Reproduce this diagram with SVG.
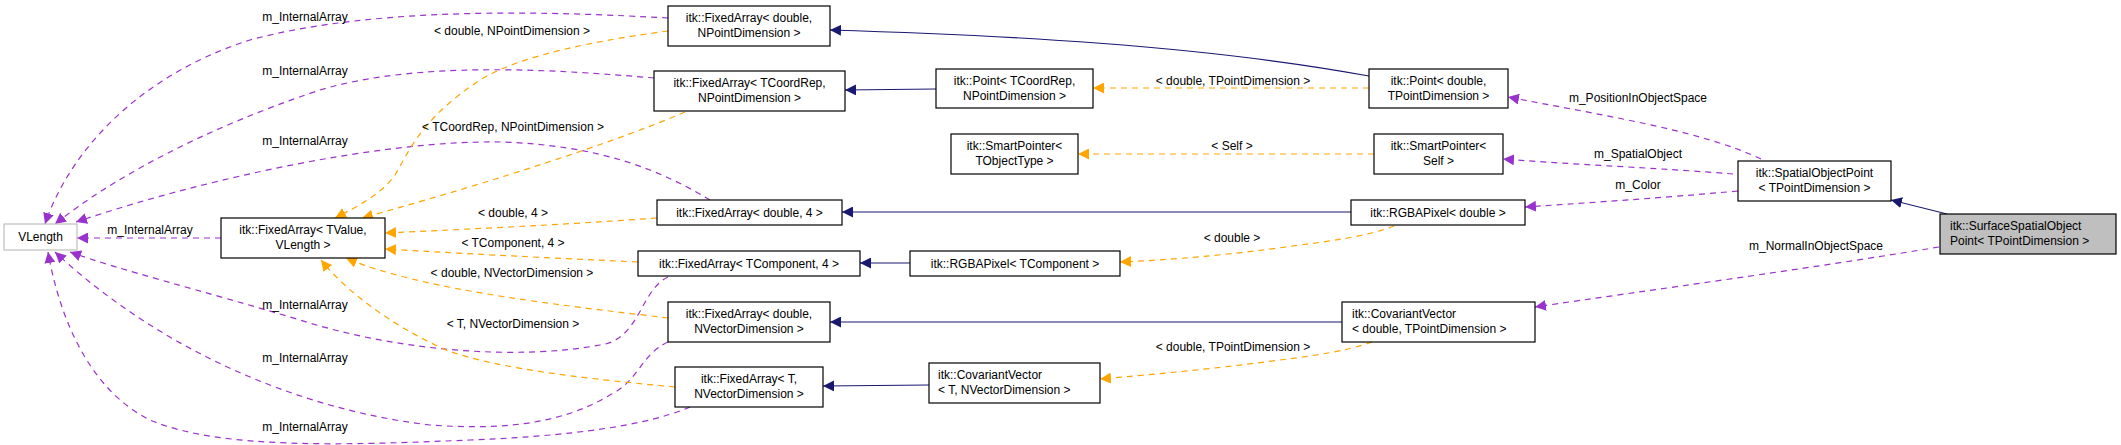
<svg xmlns="http://www.w3.org/2000/svg" width="2121" height="445" viewBox="0 0 2121 445">
<style>
text{font-family:"Liberation Sans",Arial,sans-serif;font-size:12px;fill:#000}
.n rect{fill:#fff;stroke:#000;stroke-width:1.2}
.c{text-anchor:middle}
.p{fill:none;stroke:#9a32cd;stroke-width:1.2;stroke-dasharray:6,5}
.o{fill:none;stroke:#ffa500;stroke-width:1.2;stroke-dasharray:6,5}
.b{fill:none;stroke:#191970;stroke-width:1.2}
</style>
<defs>
<marker id="mp" viewBox="0 0 10 10" refX="10" refY="5" markerWidth="11" markerHeight="11" markerUnits="userSpaceOnUse" orient="auto"><path d="M0,0L10,5L0,10z" fill="#9a32cd"/></marker>
<marker id="mo" viewBox="0 0 10 10" refX="10" refY="5" markerWidth="11" markerHeight="11" markerUnits="userSpaceOnUse" orient="auto"><path d="M0,0L10,5L0,10z" fill="#ffa500"/></marker>
<marker id="mb" viewBox="0 0 10 10" refX="10" refY="5" markerWidth="11" markerHeight="11" markerUnits="userSpaceOnUse" orient="auto"><path d="M0,0L10,5L0,10z" fill="#191970"/></marker>
</defs>
<g id="connectors">
<path class="p" marker-end="url(#mp)" d="M668,18 C560,12 380,5 250,40 C140,75 70,150 45,224"/>
<path class="p" marker-end="url(#mp)" d="M654,78 C560,70 420,60 320,90 C200,130 110,180 55,224"/>
<path class="p" marker-end="url(#mp)" d="M710,200 C660,170 600,145 500,142 C380,140 200,180 76,222"/>
<path class="p" marker-end="url(#mp)" d="M221,238 L77,238"/>
<path class="p" marker-end="url(#mp)" d="M668,277 C640,290 640,340 600,345 C520,360 400,352 300,320 C200,290 120,270 70,252"/>
<path class="p" marker-end="url(#mp)" d="M668,342 C640,355 640,380 610,395 C560,425 500,430 430,425 C300,410 160,350 55,252"/>
<path class="p" marker-end="url(#mp)" d="M690,407 C660,420 600,435 470,440 C350,445 220,450 150,420 C90,390 60,320 48,252"/>
<path class="o" marker-end="url(#mo)" d="M668,31 C600,40 520,55 480,80 C420,120 410,150 395,175 C380,195 360,205 335,218"/>
<path class="o" marker-end="url(#mo)" d="M685,112 C620,140 500,180 362,218"/>
<path class="o" marker-end="url(#mo)" d="M657,218 C560,225 470,229 385,233"/>
<path class="o" marker-end="url(#mo)" d="M638,262 C550,258 470,254 385,249"/>
<path class="o" marker-end="url(#mo)" d="M668,318 C560,305 420,290 346,258"/>
<path class="o" marker-end="url(#mo)" d="M675,387 C600,380 500,370 446,350 C390,325 345,290 321,260"/>
<path class="b" marker-end="url(#mb)" d="M1369,76 C1200,45 1000,35 830,30"/>
<path class="b" marker-end="url(#mb)" d="M936,89 L845,90"/>
<path class="b" marker-end="url(#mb)" d="M1351,212 L842,212"/>
<path class="b" marker-end="url(#mb)" d="M910,263 L860,263"/>
<path class="b" marker-end="url(#mb)" d="M1342,322 L830,322"/>
<path class="b" marker-end="url(#mb)" d="M929,385 L823,386"/>
<path class="b" marker-end="url(#mb)" d="M1947,214 L1891,200"/>
<path class="o" marker-end="url(#mo)" d="M1369,88 L1093,88"/>
<path class="o" marker-end="url(#mo)" d="M1374,154 L1078,154"/>
<path class="o" marker-end="url(#mo)" d="M1394,226 C1370,235 1340,240 1300,245 C1230,255 1170,260 1120,262"/>
<path class="o" marker-end="url(#mo)" d="M1372,342 C1350,350 1320,355 1280,360 C1220,368 1160,374 1100,379"/>
<path class="p" marker-end="url(#mp)" d="M1761,159 C1700,130 1600,115 1508,97"/>
<path class="p" marker-end="url(#mp)" d="M1733,174 C1660,168 1580,165 1503,159"/>
<path class="p" marker-end="url(#mp)" d="M1738,191 C1660,198 1600,202 1525,207"/>
<path class="p" marker-end="url(#mp)" d="M1939,247 C1800,270 1650,290 1535,307"/>
<text x="305" y="21" class="c">m_InternalArray</text>
<text x="305" y="75" class="c">m_InternalArray</text>
<text x="305" y="145" class="c">m_InternalArray</text>
<text x="150" y="234" class="c">m_InternalArray</text>
<text x="305" y="309" class="c">m_InternalArray</text>
<text x="305" y="362" class="c">m_InternalArray</text>
<text x="305" y="431" class="c">m_InternalArray</text>
<text x="512" y="35" class="c">&lt; double, NPointDimension &gt;</text>
<text x="513" y="131" class="c">&lt; TCoordRep, NPointDimension &gt;</text>
<text x="513" y="217" class="c">&lt; double, 4 &gt;</text>
<text x="513" y="247" class="c">&lt; TComponent, 4 &gt;</text>
<text x="512" y="277" class="c">&lt; double, NVectorDimension &gt;</text>
<text x="513" y="328" class="c">&lt; T, NVectorDimension &gt;</text>
<text x="1233" y="85" class="c">&lt; double, TPointDimension &gt;</text>
<text x="1232" y="150" class="c">&lt; Self &gt;</text>
<text x="1232" y="242" class="c">&lt; double &gt;</text>
<text x="1233" y="351" class="c">&lt; double, TPointDimension &gt;</text>
<text x="1638" y="102" class="c">m_PositionInObjectSpace</text>
<text x="1638" y="158" class="c">m_SpatialObject</text>
<text x="1638" y="189" class="c">m_Color</text>
<text x="1816" y="250" class="c">m_NormalInObjectSpace</text>
</g>
<g id="vlength" class="n"><rect x="4" y="224" width="73" height="26" style="stroke:#bfbfbf"/><text x="40.5" y="241" class="c">VLength</text></g>
<g id="fa_tvalue" class="n"><rect x="221" y="218" width="164" height="40"/><text x="303" y="234" class="c">itk::FixedArray&lt; TValue,</text><text x="303" y="249" class="c">VLength &gt;</text></g>
<g id="fa_double_npd" class="n"><rect x="668" y="6" width="162" height="40"/><text x="749" y="22" class="c">itk::FixedArray&lt; double,</text><text x="749" y="37" class="c">NPointDimension &gt;</text></g>
<g id="fa_tcoordrep" class="n"><rect x="654" y="71" width="191" height="40"/><text x="749.5" y="87" class="c">itk::FixedArray&lt; TCoordRep,</text><text x="749.5" y="102" class="c">NPointDimension &gt;</text></g>
<g id="point_tcoordrep" class="n"><rect x="936" y="69" width="157" height="39"/><text x="1014.5" y="85" class="c">itk::Point&lt; TCoordRep,</text><text x="1014.5" y="100" class="c">NPointDimension &gt;</text></g>
<g id="smartptr_tobj" class="n"><rect x="951" y="134" width="127" height="40"/><text x="1014.5" y="150" class="c">itk::SmartPointer&lt;</text><text x="1014.5" y="165" class="c">TObjectType &gt;</text></g>
<g id="fa_double_4" class="n"><rect x="657" y="200" width="185" height="25"/><text x="749.5" y="217" class="c">itk::FixedArray&lt; double, 4 &gt;</text></g>
<g id="fa_tcomp_4" class="n"><rect x="638" y="251" width="222" height="25"/><text x="749" y="268" class="c">itk::FixedArray&lt; TComponent, 4 &gt;</text></g>
<g id="rgba_tcomp" class="n"><rect x="910" y="251" width="210" height="25"/><text x="1015" y="268" class="c">itk::RGBAPixel&lt; TComponent &gt;</text></g>
<g id="fa_double_nvd" class="n"><rect x="668" y="302" width="162" height="40"/><text x="749" y="318" class="c">itk::FixedArray&lt; double,</text><text x="749" y="333" class="c">NVectorDimension &gt;</text></g>
<g id="fa_t_nvd" class="n"><rect x="675" y="367" width="148" height="40"/><text x="749" y="383" class="c">itk::FixedArray&lt; T,</text><text x="749" y="398" class="c">NVectorDimension &gt;</text></g>
<g id="covvec_t" class="n"><rect x="929" y="363" width="171" height="40"/><text x="938" y="379">itk::CovariantVector</text><text x="938" y="394">&lt; T, NVectorDimension &gt;</text></g>
<g id="point_double" class="n"><rect x="1369" y="69" width="139" height="39"/><text x="1438.5" y="85" class="c">itk::Point&lt; double,</text><text x="1438.5" y="100" class="c">TPointDimension &gt;</text></g>
<g id="smartptr_self" class="n"><rect x="1374" y="134" width="129" height="40"/><text x="1438.5" y="150" class="c">itk::SmartPointer&lt;</text><text x="1438.5" y="165" class="c">Self &gt;</text></g>
<g id="rgba_double" class="n"><rect x="1351" y="200" width="174" height="25"/><text x="1438" y="217" class="c">itk::RGBAPixel&lt; double &gt;</text></g>
<g id="covvec_double" class="n"><rect x="1342" y="302" width="193" height="40"/><text x="1352" y="318">itk::CovariantVector</text><text x="1352" y="333">&lt; double, TPointDimension &gt;</text></g>
<g id="spatialobjectpoint" class="n"><rect x="1738" y="161" width="153" height="40"/><text x="1814.5" y="177" class="c">itk::SpatialObjectPoint</text><text x="1814.5" y="192" class="c">&lt; TPointDimension &gt;</text></g>
<g id="surfacespatialobjectpoint" class="n"><rect x="1940" y="214" width="176" height="40" style="fill:#bfbfbf"/><text x="1950" y="230">itk::SurfaceSpatialObject</text><text x="1950" y="245">Point&lt; TPointDimension &gt;</text></g>
</svg>
